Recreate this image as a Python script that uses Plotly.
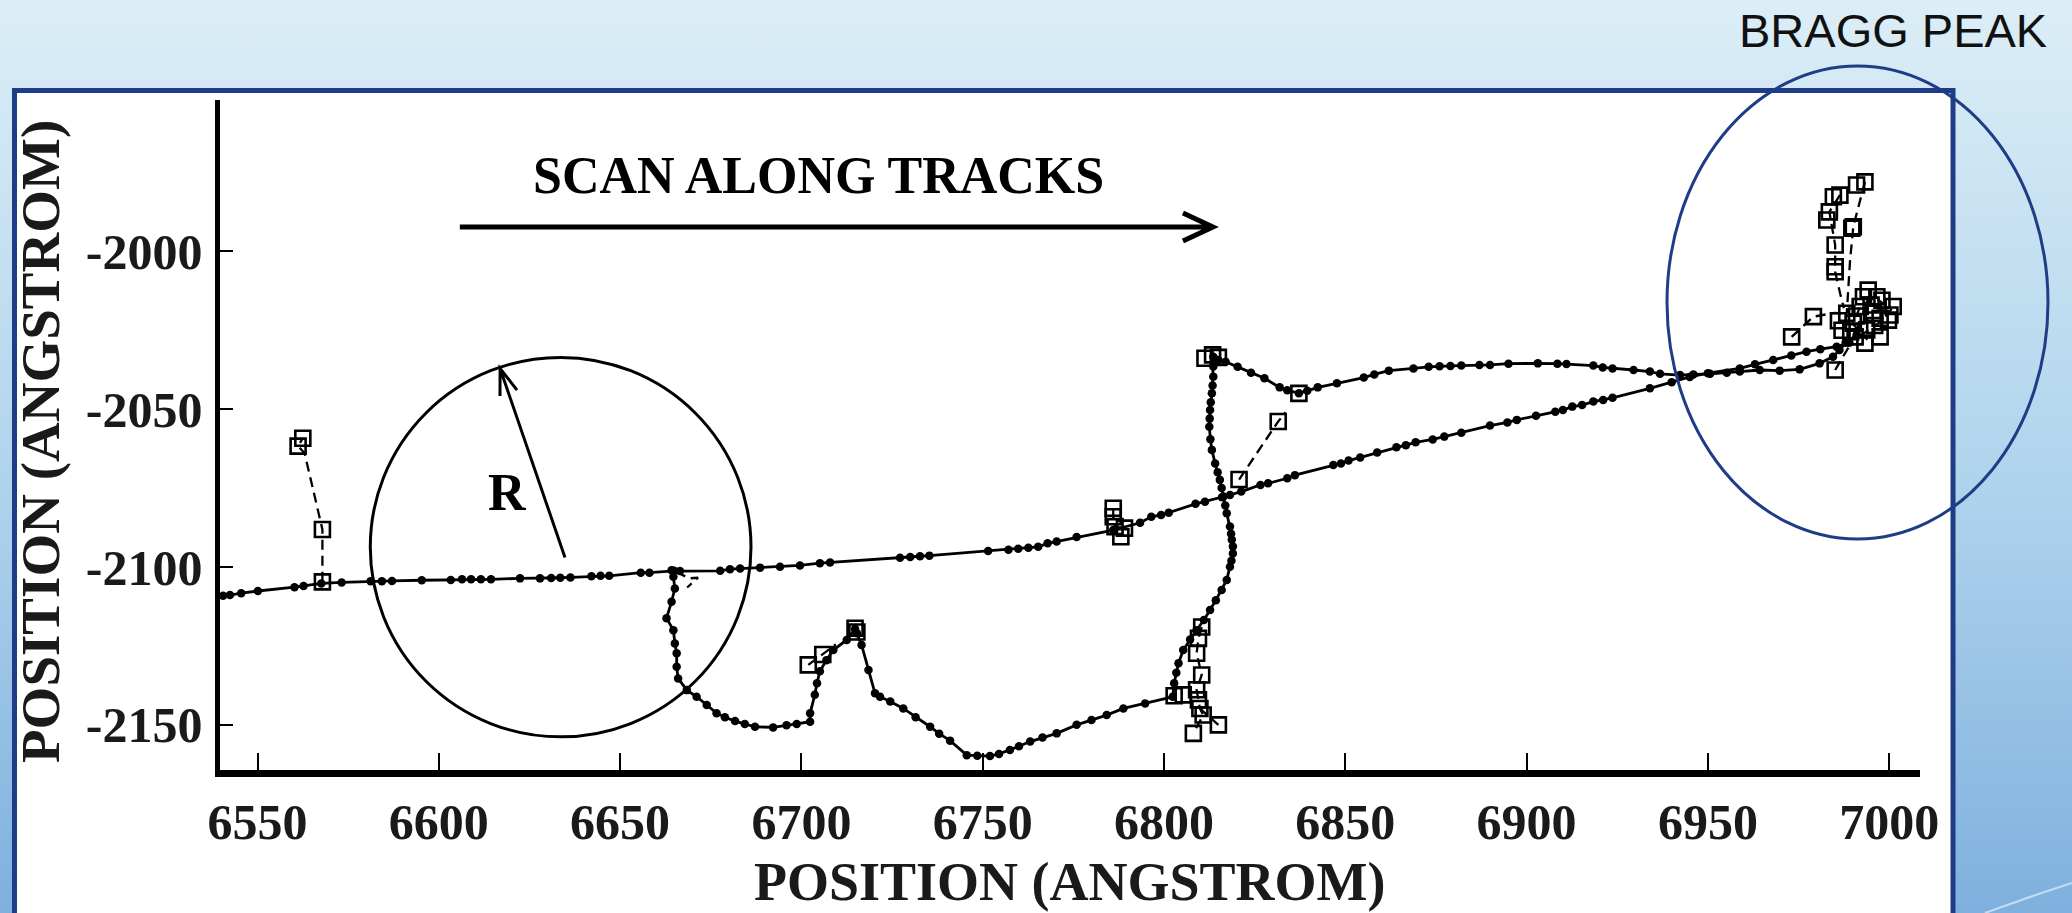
import plotly.graph_objects as go

W, H = 2072, 913

# ---------------- data ----------------
x_ticks = [6550, 6600, 6650, 6700, 6750, 6800, 6850, 6900, 6950, 7000]
x_tick_labels = ["6550", "6600", "6650", "6700", "6750", "6800", "6850", "6900", "6950", "7000"]
y_ticks = [-2150, -2100, -2050, -2000]
y_tick_labels = ["-2150", "-2100", "-2050", "-2000"]

# primary track, entering from the left and ending at the Bragg peak
main_x = [6540.5, 6542.4, 6545.5, 6550.1, 6560.2, 6562.7, 6567.6, 6573.2, 6581.2, 6584.3,
          6587.1, 6595.3, 6603.3, 6606.4, 6608.9, 6611.6, 6614.4, 6622.4, 6627.9, 6631.0,
          6633.5, 6636.3, 6642.1, 6644.6, 6647.0, 6655.7, 6658.1, 6664.9, 6666.5, 6677.6,
          6680.3, 6683.1, 6688.6, 6694.1, 6699.6, 6705.1, 6707.9, 6727.2, 6730.0, 6732.7,
          6735.3, 6751.5, 6757.1, 6759.8, 6762.6, 6765.3, 6767.9, 6770.4, 6775.9, 6786.0,
          6793.4, 6796.5, 6799.2, 6801.3, 6808.7, 6811.3, 6816.0, 6818.2, 6821.3, 6826.6,
          6828.7, 6834.0, 6836.1, 6846.7, 6848.8, 6850.9, 6854.1, 6858.8, 6864.1, 6866.7,
          6869.4, 6874.1, 6877.3, 6882.0, 6889.9, 6894.7, 6897.3, 6902.6, 6907.9, 6910.0,
          6912.6, 6915.3, 6918.4, 6921.1, 6923.7, 6934.0, 6940.0, 6945.0, 6950.0, 6958.8,
          6963.0, 6968.0, 6973.0, 6977.2, 6981.0, 6985.5, 6989.0]
main_y = [-2109.1, -2108.9, -2108.3, -2107.6, -2106.4, -2106.0, -2105.2, -2104.9, -2104.5, -2104.5,
          -2104.4, -2104.2, -2104.1, -2103.9, -2103.9, -2103.9, -2103.9, -2103.6, -2103.6, -2103.5,
          -2103.4, -2103.3, -2102.9, -2102.8, -2102.8, -2101.8, -2101.8, -2101.2, -2101.3, -2101.2,
          -2100.7, -2100.5, -2100.2, -2099.9, -2099.5, -2098.8, -2098.6, -2097.1, -2096.8, -2096.6,
          -2096.4, -2094.9, -2094.5, -2094.2, -2093.9, -2093.6, -2092.5, -2091.9, -2090.5, -2088.3,
          -2086.0, -2084.1, -2083.5, -2082.8, -2080.0, -2079.3, -2077.9, -2077.2, -2076.1, -2074.0,
          -2073.5, -2071.9, -2070.9, -2067.7, -2067.2, -2066.3, -2065.3, -2063.7, -2062.1, -2061.4,
          -2060.5, -2059.6, -2058.7, -2057.5, -2055.2, -2054.2, -2053.4, -2052.1, -2050.8, -2050.3,
          -2049.2, -2048.7, -2047.6, -2047.1, -2046.4, -2043.4, -2041.5, -2039.8, -2038.6, -2037.1,
          -2035.8, -2034.4, -2033.0, -2031.8, -2031.0, -2030.2, -2029.0]

# second track: leaves the Bragg peak, loops down and rejoins near 6665
loop_x = [6991.0, 6988.0, 6986.3, 6984.5, 6980.8, 6975.3, 6969.8, 6964.3, 6958.8, 6955.2,
          6950.6, 6946.0, 6942.3, 6936.8, 6934.0, 6929.5, 6923.7, 6921.0, 6918.4, 6911.0,
          6908.5, 6903.1, 6895.0, 6889.9, 6887.0, 6882.0, 6879.0, 6876.0, 6873.0, 6868.8,
          6862.0, 6858.0, 6855.1, 6847.7, 6842.4, 6839.5, 6837.2, 6834.0, 6831.9, 6827.7,
          6824.0, 6820.3, 6817.0, 6815.0, 6813.6, 6813.6, 6813.6, 6813.4, 6813.2, 6812.9,
          6812.7, 6812.6, 6812.5, 6812.8, 6813.2, 6814.1, 6814.8, 6815.4, 6815.9, 6816.4,
          6816.9, 6817.3, 6818.2, 6818.5, 6818.7, 6819.0, 6819.0, 6818.6, 6818.2, 6817.3,
          6815.9, 6814.3, 6812.7, 6811.0, 6809.0, 6807.2, 6805.3, 6804.0, 6803.4, 6802.8,
          6802.4, 6794.8, 6788.8, 6784.2, 6780.0, 6775.9, 6770.4, 6766.5, 6763.1, 6760.0,
          6757.5, 6754.5, 6752.0, 6748.5, 6745.6, 6741.0, 6738.0, 6735.5, 6731.5, 6728.1,
          6724.5, 6721.7, 6720.3, 6718.5, 6716.6, 6715.3, 6714.8, 6712.5, 6708.8, 6706.9,
          6705.1, 6704.3, 6703.7, 6702.4, 6702.4, 6698.7, 6695.9, 6692.2, 6687.2, 6684.4,
          6681.7, 6678.9, 6676.6, 6673.9, 6671.1, 6668.4, 6666.0, 6665.6, 6665.6, 6665.1,
          6664.7, 6662.8, 6664.2, 6665.1, 6664.7, 6664.2]
loop_y = [-2026.5, -2029.0, -2031.3, -2033.4, -2035.5, -2037.4, -2037.8, -2037.6, -2038.1, -2038.5,
          -2038.8, -2039.0, -2039.2, -2038.8, -2038.1, -2037.6, -2037.1, -2036.8, -2036.2, -2035.7,
          -2035.6, -2035.5, -2035.6, -2036.0, -2036.0, -2036.2, -2036.3, -2036.4, -2036.6, -2037.1,
          -2037.8, -2039.0, -2040.0, -2041.8, -2043.1, -2044.2, -2045.0, -2044.0, -2043.1, -2040.2,
          -2038.5, -2036.6, -2035.0, -2034.4, -2033.4, -2036.5, -2039.7, -2042.5, -2045.0, -2047.8,
          -2050.3, -2053.0, -2055.6, -2059.5, -2062.9, -2067.2, -2070.0, -2072.4, -2075.0, -2077.7,
          -2080.5, -2083.0, -2087.2, -2089.5, -2091.4, -2093.5, -2095.7, -2098.0, -2099.9, -2104.1,
          -2107.3, -2110.5, -2113.6, -2116.8, -2120.0, -2123.0, -2126.3, -2130.5, -2133.5, -2136.8,
          -2141.1, -2143.2, -2144.8, -2146.9, -2148.5, -2150.0, -2152.7, -2154.0, -2155.3, -2156.8,
          -2158.0, -2159.2, -2159.9, -2159.8, -2159.6, -2155.0, -2152.8, -2150.6, -2147.6, -2144.8,
          -2142.6, -2141.1, -2140.0, -2132.6, -2124.7, -2121.0, -2119.6, -2123.1, -2126.3, -2129.5,
          -2133.0, -2136.8, -2140.5, -2146.3, -2149.0, -2149.7, -2150.1, -2150.8, -2150.6, -2149.7,
          -2148.8, -2147.6, -2146.3, -2143.7, -2141.1, -2139.0, -2135.3, -2131.6, -2127.3, -2124.2,
          -2120.0, -2116.2, -2111.0, -2106.8, -2103.1, -2101.0]

# short dashed side tracks (delta rays)
side_tracks = [
    ([6567.9, 6567.9, 6563.0, 6561.2, 6562.5], [-2104.7, -2088.1, -2064.0, -2061.7, -2059.2]),
    ([6665.5, 6669.0, 6671.5, 6668.5], [-2101.5, -2103.6, -2103.4, -2106.5]),
    ([6701.9, 6705.9, 6709.5], [-2131.0, -2127.7, -2124.5]),
    ([6786.0, 6786.0, 6786.5, 6789.1, 6788.1], [-2081.4, -2084.1, -2087.2, -2087.7, -2090.4]),
    ([6820.7, 6831.5, 6833.5], [-2072.3, -2053.9, -2051.0]),
    ([6810.4, 6809.5, 6809.0, 6810.4, 6809.0, 6809.5, 6809.9, 6810.8, 6808.1],
     [-2119.0, -2122.6, -2127.3, -2134.2, -2138.9, -2142.1, -2144.8, -2146.9, -2152.7]),
    ([6809.9, 6815.0], [-2144.8, -2150.0]),
    ([6993.3, 6990.1, 6989.2, 6988.8, 6988.3], [-1978.0, -1992.2, -2003.0, -2012.0, -2019.6]),
    ([6986.4, 6983.5, 6985.1, 6985.1, 6986.5, 6987.5], [-1982.2, -1987.5, -1998.0, -2006.5, -2013.5, -2018.0]),
    ([6973.1, 6979.1, 6985.0, 6990.0], [-2027.1, -2020.7, -2019.5, -2020.0]),
    ([6985.1, 6987.0, 6989.0], [-2037.6, -2034.0, -2030.0]),
    ([6988.0, 6993.0, 6998.0, 7000.5, 6996.0, 6992.0, 6990.0, 6994.0],
     [-2029.0, -2026.0, -2022.0, -2018.5, -2014.5, -2017.5, -2023.0, -2028.0]),
]

# open-square hits
box_x = [6567.9, 6567.9, 6561.2, 6562.5,
         6701.9, 6705.9, 6714.8, 6715.3,
         6786.0, 6786.0, 6786.5, 6789.1, 6788.1,
         6811.3, 6813.4, 6815.0, 6837.2, 6820.7, 6831.5,
         6810.4, 6809.5, 6809.0, 6810.4, 6809.0, 6809.5, 6809.9, 6810.8, 6808.1, 6815.0, 6805.3, 6802.8,
         6993.3, 6991.0, 6986.4, 6984.6, 6983.5, 6982.8, 6990.1, 6989.7, 6985.1, 6985.1, 6985.1,
         6994.2, 6996.6, 6992.9, 7001.1, 7000.2, 6992.0, 6988.3, 6995.6, 6997.5, 6999.8, 6979.1,
         6973.1, 6990.1, 6993.8, 6997.5, 6989.4, 6993.3, 6990.6, 6985.1, 6986.0, 6995.0, 6998.0,
         6991.0, 6987.0, 6996.0]
box_y = [-2104.7, -2088.1, -2061.7, -2059.2,
         -2131.0, -2127.7, -2119.4, -2120.6,
         -2081.4, -2084.1, -2087.2, -2087.7, -2090.4,
         -2033.9, -2032.8, -2033.6, -2045.0, -2072.3, -2053.9,
         -2119.0, -2122.6, -2127.3, -2134.2, -2138.9, -2142.1, -2144.8, -2146.9, -2152.7, -2150.0, -2140.5, -2140.8,
         -1978.0, -1979.0, -1982.2, -1982.7, -1987.5, -1990.1, -1992.2, -1992.7, -1998.0, -2004.9, -2006.5,
         -2012.3, -2014.4, -2014.4, -2017.5, -2020.2, -2017.5, -2019.6, -2019.6, -2021.2, -2021.8, -2020.7,
         -2027.1, -2022.8, -2024.9, -2027.1, -2025.5, -2029.1, -2027.1, -2037.6, -2022.0, -2017.0, -2015.5,
         -2020.5, -2025.0, -2023.5]

# scan-radius circle and its arrow
circle_center = (6633.6, -2093.7)
circle_radius = (52.5, 60.1)
r_arrow_tail = (6634.8, -2097.0)
r_arrow_tip = (6616.9, -2037.1)
scan_arrow_start = (6605.8, -1992.3)
scan_arrow_end = (6813.5, -1992.3)

# ---------------- geometry ----------------
PX_LEFT, PX_RIGHT, PX_TOP, PX_BOTTOM = 219.5, 1920.0, 100.0, 770.0
X_REF_PX, X_REF, X_SCALE = 257.5, 6550.0, 3.626   # px per x unit
Y_REF_PX, Y_REF, Y_SCALE = 251.3, -2000.0, 3.157  # px per y unit

x_range = [X_REF + (PX_LEFT - X_REF_PX) / X_SCALE, X_REF + (PX_RIGHT - X_REF_PX) / X_SCALE]
y_range = [Y_REF - (PX_BOTTOM - Y_REF_PX) / Y_SCALE, Y_REF + (Y_REF_PX - PX_TOP) / Y_SCALE]


def px(xp):
    return xp / W


def py(yp):
    return 1 - yp / H


NAVY = "#1F3D86"
SERIF = "Liberation Serif, Times New Roman, serif"

fig = go.Figure()

# slide background (gradient) and white panel on a full-page helper subplot
fig.add_trace(go.Scatter(
    x=[0, 1, 1, 0, 0], y=[0, 0, 1, 1, 0], mode="lines", fill="toself",
    fillgradient=dict(type="vertical",
                      colorscale=[[0, "#7EB0DE"], [0.45, "#AED2EC"], [1, "#DCEEF7"]]),
    line=dict(width=0), hoverinfo="skip", showlegend=False, xaxis="x", yaxis="y"))
fig.add_trace(go.Scatter(
    x=[px(14.5), px(1953), px(1953), px(14.5), px(14.5)],
    y=[-0.2, -0.2, py(90.5), py(90.5), -0.2],
    mode="lines", fill="toself", fillcolor="white",
    line=dict(color=NAVY, width=5), hoverinfo="skip", showlegend=False,
    xaxis="x", yaxis="y"))
fig.add_trace(go.Scatter(
    x=[px(1985), px(2030), px(2072)], y=[py(913), py(897), py(883)],
    mode="lines", line=dict(color="rgba(255,255,255,0.55)", width=2, shape="spline"),
    hoverinfo="skip", showlegend=False, xaxis="x", yaxis="y"))

# dashed side tracks
for sx, sy in side_tracks:
    fig.add_trace(go.Scatter(
        x=sx, y=sy, mode="lines", line=dict(color="black", width=2.3, dash="10px,6px"),
        hoverinfo="skip", showlegend=False, xaxis="x2", yaxis="y2"))

# main tracks with dots
for tx, ty in [(main_x, main_y), (loop_x, loop_y)]:
    fig.add_trace(go.Scatter(
        x=tx, y=ty, mode="lines+markers",
        line=dict(color="black", width=2.8),
        marker=dict(symbol="circle", size=8.5, color="black"),
        showlegend=False, xaxis="x2", yaxis="y2"))

# square hits
fig.add_trace(go.Scatter(
    x=box_x, y=box_y, mode="markers",
    marker=dict(symbol="square-open", size=15, color="black", line=dict(width=2.6)),
    showlegend=False, xaxis="x2", yaxis="y2"))

shapes = []
# scan circle
cx, cy = circle_center
rx, ry = circle_radius
shapes.append(dict(type="circle", xref="x2", yref="y2", x0=cx - rx, x1=cx + rx,
                   y0=cy - ry, y1=cy + ry, line=dict(color="black", width=3)))


def arrow_path(start, end, back_px, half_px):
    # line with an open chevron head, computed in pixel space then mapped back to data
    x1, y1 = start
    x2, y2 = end
    dxp = (x2 - x1) * X_SCALE
    dyp = -(y2 - y1) * Y_SCALE
    L = (dxp ** 2 + dyp ** 2) ** 0.5
    bx, by = -dxp / L, -dyp / L          # unit vector pointing back along the shaft
    nx, ny = by, -bx                      # perpendicular
    pts = []
    for s in (1, -1):
        ax = back_px * bx + s * half_px * nx
        ay = back_px * by + s * half_px * ny
        pts.append((x2 + ax / X_SCALE, y2 - ay / Y_SCALE))
    return (f"M{x1},{y1} L{x2},{y2} "
            f"M{pts[0][0]},{pts[0][1]} L{x2},{y2} L{pts[1][0]},{pts[1][1]}")


shapes.append(dict(type="path", xref="x2", yref="y2",
                   path=arrow_path(r_arrow_tail, r_arrow_tip, 26, 9),
                   line=dict(color="black", width=3)))
shapes.append(dict(type="path", xref="x2", yref="y2",
                   path=arrow_path(scan_arrow_start, scan_arrow_end, 30, 14),
                   line=dict(color="black", width=5)))
# Bragg peak ellipse
shapes.append(dict(type="circle", xref="paper", yref="paper", layer="above",
                   x0=px(1667), x1=px(2048), y0=py(539), y1=py(66),
                   line=dict(color=NAVY, width=3)))

annotations = [
    dict(text="SCAN ALONG TRACKS", xref="paper", yref="paper", x=px(818), y=py(176),
         xanchor="center", yanchor="middle", showarrow=False,
         font=dict(family=SERIF, size=52, color="black", weight="bold")),
    dict(text="R", xref="paper", yref="paper", x=px(507), y=py(492),
         xanchor="center", yanchor="middle", showarrow=False,
         font=dict(family=SERIF, size=52, color="black", weight="bold")),
    dict(text="BRAGG PEAK", xref="paper", yref="paper", x=px(1892.5), y=py(30),
         xanchor="center", yanchor="middle", showarrow=False,
         font=dict(family="Liberation Sans, Arial, sans-serif", size=47, color="#111111")),
    dict(text="POSITION (ANGSTROM)", xref="paper", yref="paper", x=px(1070), y=py(913),
         xanchor="center", yanchor="bottom", showarrow=False, borderpad=0,
         font=dict(family=SERIF, size=54, color="#1a1a1a", weight="bold")),
    dict(text="POSITION (ANGSTROM)", xref="paper", yref="paper", x=px(40), y=py(442),
         xanchor="center", yanchor="middle", showarrow=False, textangle=-90,
         font=dict(family=SERIF, size=55, color="#1a1a1a", weight="bold")),
]

fig.update_layout(
    width=W, height=H, margin=dict(l=0, r=0, t=0, b=0, autoexpand=False),
    paper_bgcolor="#DCEEF7", plot_bgcolor="rgba(0,0,0,0)",
    showlegend=False, shapes=shapes, annotations=annotations,
    xaxis=dict(domain=[0, 1], range=[0, 1], visible=False, fixedrange=True),
    yaxis=dict(domain=[0, 1], range=[0, 1], visible=False, fixedrange=True),
    xaxis2=dict(domain=[px(PX_LEFT), px(PX_RIGHT)], range=x_range, anchor="y2",
                showgrid=False, zeroline=False, showline=True, linecolor="black", linewidth=7,
                ticks="inside", ticklen=17, tickwidth=1.5, tickcolor="black",
                tickvals=x_ticks, ticktext=x_tick_labels, ticklabelstandoff=2,
                tickfont=dict(family=SERIF, size=50, color="#1a1a1a", weight="bold")),
    yaxis2=dict(domain=[py(PX_BOTTOM), py(PX_TOP)], range=y_range, anchor="x2",
                showgrid=False, zeroline=False, showline=True, linecolor="black", linewidth=5,
                ticks="inside", ticklen=13, tickwidth=1.5, tickcolor="black",
                tickvals=y_ticks, ticktext=y_tick_labels, ticklabelstandoff=2,
                tickfont=dict(family=SERIF, size=50, color="#1a1a1a", weight="bold")),
)

fig.write_html("out.html")
